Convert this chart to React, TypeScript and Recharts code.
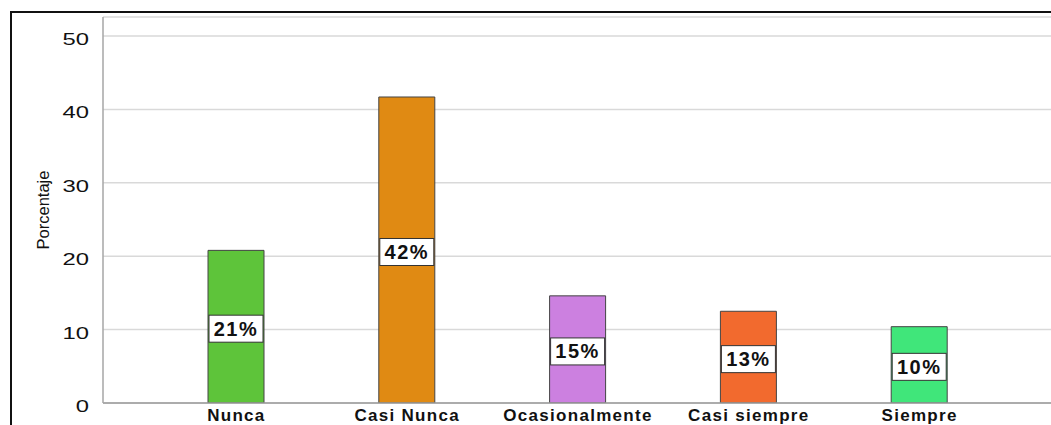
import { BarChart, Bar, XAxis, YAxis, CartesianGrid, Cell, LabelList } from "recharts"

const categories = ["Nunca", "Casi Nunca", "Ocasionalmente", "Casi siempre", "Siempre"]
const percentages = [20.8, 41.7, 14.6, 12.5, 10.4]
const labels = ["21%", "42%", "15%", "13%", "10%"]
const colors = ["#5ec43a", "#e08a13", "#cc80e0", "#f26a2e", "#40e67a"]
const yTicks = [0, 10, 20, 30, 40, 50]

const data = categories.map((name, i) => ({ name, value: percentages[i], label: labels[i] }))

const FONT = "'Liberation Sans', Arial, sans-serif"

function YTick(props: any) {
  const { x, y, payload } = props
  return (
    <text
      transform={`translate(${x - 6},${y + 9}) scale(1.4,1)`}
      textAnchor="end"
      fontFamily={FONT}
      fontSize={17}
      fill="#111"
    >
      {payload.value}
    </text>
  )
}

function XTick(props: any) {
  const { x, y, payload } = props
  return (
    <text
      x={x}
      y={y + 10}
      textAnchor="middle"
      fontFamily={FONT}
      fontSize={17}
      fontWeight="bold"
      letterSpacing={1.3}
      fill="#111"
    >
      {payload.value}
    </text>
  )
}

function BoxLabel(props: any) {
  const { x, y, width, height, value } = props
  const cy = y + height / 2 + 2
  return (
    <g>
      <rect x={x + 1} y={cy - 13.5} width={width - 2} height={27} fill="#fff" stroke="#333" strokeWidth={1} />
      <text
        x={x + width / 2}
        y={cy + 7}
        textAnchor="middle"
        fontFamily={FONT}
        fontSize={20}
        fontWeight="bold"
        letterSpacing={1.5}
        fill="#111"
      >
        {value}
      </text>
    </g>
  )
}

function YLabel(props: any) {
  const { viewBox } = props
  const cy = viewBox.y + viewBox.height / 2
  return (
    <text
      x={43}
      y={cy}
      transform={`rotate(-90, 43, ${cy})`}
      textAnchor="middle"
      dominantBaseline="central"
      fontFamily={FONT}
      fontSize={16.5}
      fill="#111"
    >
      Porcentaje
    </text>
  )
}

export default function App() {
  return (
    <div
      style={{
        position: "absolute",
        left: 0,
        top: 0,
        width: 1051,
        height: 425,
        overflow: "hidden",
        background: "#fff",
      }}
    >
      <div
        style={{
          position: "absolute",
          left: 10,
          top: 11,
          width: 1100,
          height: 500,
          borderLeft: "2px solid #111",
          borderTop: "2px solid #111",
        }}
      />
      <div style={{ position: "absolute", left: 0, top: 0 }}>
        <BarChart width={1060} height={445} data={data} margin={{ top: 17, right: 0, bottom: 0, left: 0 }}>
          <CartesianGrid horizontal vertical={false} stroke="#d9d9d9" strokeWidth={1.5} />
          <XAxis
            dataKey="name"
            height={42}
            padding={{ left: 48, right: 55 }}
            tickLine={false}
            axisLine={{ stroke: "#9a9a9a", strokeWidth: 1.5 }}
            tick={<XTick />}
            interval={0}
          />
          <YAxis
            width={103}
            domain={[0, 52.6]}
            ticks={yTicks}
            allowDataOverflow
            tickLine={false}
            axisLine={{ stroke: "#a6a6a6", strokeWidth: 1.5 }}
            tick={<YTick />}
            label={<YLabel />}
          />
          <Bar dataKey="value" barSize={56} stroke="#444" strokeWidth={1} isAnimationActive={false}>
            {data.map((d, i) => (
              <Cell key={d.name} fill={colors[i]} />
            ))}
            <LabelList dataKey="label" content={<BoxLabel />} />
          </Bar>
        </BarChart>
      </div>
    </div>
  )
}
